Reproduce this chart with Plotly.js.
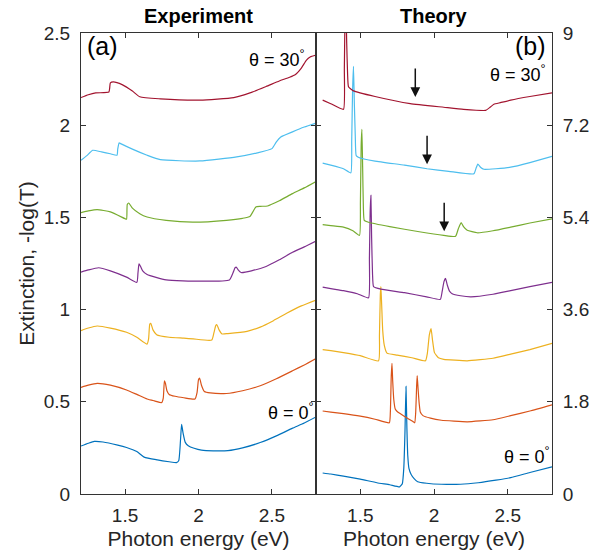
<!DOCTYPE html>
<html>
<head>
<meta charset="utf-8">
<script src="https://cdn.plot.ly/plotly-3.0.1.min.js"></script>
<style>html,body{margin:0;padding:0;background:#fff;}#chart{width:598px;height:560px;}</style>
</head>
<body>
<div id="chart"></div>
<script>
// ---- Experiment (left panel), extinction vs photon energy (eV) ----
const exp0_x = [1.2, 1.25, 1.29, 1.35, 1.45, 1.51, 1.58, 1.63, 1.72, 1.80, 1.85, 1.865, 1.878, 1.885, 1.895, 1.91, 1.93, 1.97, 2.02, 2.1, 2.2, 2.3, 2.42, 2.53, 2.64, 2.72, 2.8];
const exp0_y = [0.26, 0.275, 0.285, 0.282, 0.265, 0.252, 0.23, 0.2, 0.185, 0.175, 0.17, 0.18, 0.3, 0.378, 0.33, 0.28, 0.262, 0.248, 0.238, 0.234, 0.235, 0.25, 0.279, 0.315, 0.357, 0.385, 0.418];
const exp5_x = [1.2, 1.25, 1.31, 1.4, 1.51, 1.58, 1.65, 1.7, 1.75, 1.76, 1.768, 1.775, 1.785, 1.8, 1.84, 1.9, 1.976, 1.99, 2.0, 2.007, 2.02, 2.04, 2.08, 2.19, 2.3, 2.42, 2.53, 2.64, 2.72, 2.8];
const exp5_y = [0.578, 0.59, 0.6, 0.59, 0.564, 0.54, 0.515, 0.505, 0.496, 0.52, 0.614, 0.6, 0.56, 0.54, 0.53, 0.522, 0.515, 0.55, 0.62, 0.629, 0.59, 0.556, 0.548, 0.545, 0.56, 0.587, 0.625, 0.668, 0.7, 0.735];
const exp10_x = [1.2, 1.25, 1.31, 1.4, 1.51, 1.58, 1.65, 1.66, 1.668, 1.675, 1.69, 1.715, 1.8, 1.9, 1.964, 2.09, 2.105, 2.118, 2.125, 2.14, 2.16, 2.2, 2.33, 2.42, 2.51, 2.6, 2.7, 2.8];
const exp10_y = [0.886, 0.9, 0.911, 0.9, 0.877, 0.85, 0.813, 0.84, 0.92, 0.926, 0.89, 0.864, 0.85, 0.845, 0.841, 0.835, 0.875, 0.915, 0.918, 0.89, 0.868, 0.87, 0.882, 0.905, 0.94, 0.98, 1.02, 1.052];
const exp15_x = [1.2, 1.25, 1.32, 1.4, 1.51, 1.58, 1.588, 1.595, 1.605, 1.62, 1.65, 1.78, 2.01, 2.21, 2.235, 2.25, 2.258, 2.27, 2.29, 2.36, 2.46, 2.55, 2.64, 2.72, 2.8];
const exp15_y = [1.203, 1.215, 1.227, 1.21, 1.176, 1.148, 1.2, 1.248, 1.235, 1.21, 1.19, 1.161, 1.154, 1.161, 1.2, 1.228, 1.23, 1.215, 1.201, 1.21, 1.234, 1.27, 1.311, 1.34, 1.372];
const exp20_x = [1.2, 1.25, 1.31, 1.4, 1.5, 1.51, 1.515, 1.525, 1.55, 1.6, 1.65, 1.78, 1.96, 2.19, 2.3, 2.35, 2.37, 2.39, 2.42, 2.47, 2.55, 2.64, 2.72, 2.8];
const exp20_y = [1.526, 1.535, 1.542, 1.53, 1.493, 1.49, 1.57, 1.578, 1.55, 1.52, 1.502, 1.484, 1.474, 1.484, 1.495, 1.505, 1.53, 1.556, 1.56, 1.562, 1.59, 1.629, 1.66, 1.695];
const exp25_x = [1.2, 1.24, 1.28, 1.34, 1.4, 1.445, 1.45, 1.46, 1.47, 1.55, 1.65, 1.74, 2.01, 2.26, 2.4, 2.5, 2.53, 2.56, 2.64, 2.72, 2.8];
const exp25_y = [1.81, 1.835, 1.864, 1.855, 1.845, 1.837, 1.87, 1.904, 1.9, 1.87, 1.837, 1.813, 1.806, 1.828, 1.85, 1.873, 1.91, 1.936, 1.964, 1.99, 2.012];
const exp30_x = [1.2, 1.25, 1.3, 1.39, 1.395, 1.40, 1.42, 1.48, 1.55, 1.6, 1.74, 2.01, 2.24, 2.35, 2.46, 2.55, 2.62, 2.66, 2.7, 2.735, 2.76, 2.8];
const exp30_y = [2.15, 2.165, 2.175, 2.18, 2.2, 2.23, 2.235, 2.22, 2.185, 2.154, 2.143, 2.136, 2.15, 2.175, 2.21, 2.24, 2.26, 2.275, 2.31, 2.353, 2.37, 2.38];

// ---- Theory (right panel) ----
const th0_x = [1.245, 1.3, 1.386, 1.5, 1.613, 1.7, 1.767, 1.785, 1.795, 1.803, 1.81, 1.816, 1.822, 1.83, 1.845, 1.865, 1.889, 1.95, 2.05, 2.18, 2.3, 2.42, 2.52, 2.65, 2.8];
const th0_y = [0.41, 0.39, 0.35, 0.29, 0.22, 0.18, 0.14, 0.2, 0.5, 1.2, 2.1, 1.3, 0.75, 0.5, 0.38, 0.3, 0.24, 0.21, 0.19, 0.19, 0.22, 0.27, 0.32, 0.42, 0.53];
const th5_x = [1.245, 1.3, 1.386, 1.5, 1.6, 1.697, 1.704, 1.71, 1.715, 1.72, 1.727, 1.737, 1.75, 1.77, 1.82, 1.855, 1.869, 1.876, 1.882, 1.886, 1.892, 1.9, 1.907, 1.925, 1.976, 2.05, 2.225, 2.4, 2.52, 2.65, 2.8];
const th5_y = [1.62, 1.6, 1.57, 1.52, 1.46, 1.39, 1.6, 2.3, 2.55, 2.2, 1.85, 1.66, 1.61, 1.57, 1.48, 1.42, 1.39, 1.6, 2.1, 2.31, 2.05, 1.75, 1.6, 1.53, 1.48, 1.44, 1.41, 1.45, 1.53, 1.62, 1.74];
const th10_x = [1.245, 1.3, 1.386, 1.5, 1.624, 1.63, 1.636, 1.64, 1.645, 1.652, 1.663, 1.681, 1.75, 1.85, 1.942, 1.955, 1.968, 1.98, 1.99, 2.003, 2.03, 2.066, 2.225, 2.4, 2.52, 2.65, 2.8];
const th10_y = [2.82, 2.8, 2.76, 2.7, 2.6, 3.1, 3.9, 4.05, 3.7, 3.2, 2.9, 2.75, 2.71, 2.66, 2.6, 2.75, 3.1, 3.23, 3.0, 2.76, 2.66, 2.63, 2.6, 2.65, 2.73, 2.82, 2.94];
const th15_x = [1.245, 1.3, 1.386, 1.48, 1.556, 1.562, 1.567, 1.572, 1.577, 1.583, 1.59, 1.64, 1.8, 1.95, 2.043, 2.055, 2.068, 2.078, 2.09, 2.105, 2.123, 2.18, 2.25, 2.4, 2.52, 2.65, 2.8];
const th15_y = [4.04, 4.01, 3.97, 3.91, 3.83, 4.6, 5.5, 5.83, 5.0, 4.3, 4.05, 4.0, 3.93, 3.85, 3.8, 3.95, 4.15, 4.21, 4.08, 3.96, 3.91, 3.87, 3.85, 3.9, 3.97, 4.05, 4.13];
const th20_x = [1.245, 1.3, 1.386, 1.45, 1.495, 1.501, 1.506, 1.511, 1.516, 1.521, 1.527, 1.56, 1.7, 1.9, 2.066, 2.146, 2.165, 2.184, 2.2, 2.225, 2.293, 2.4, 2.52, 2.65, 2.8];
const th20_y = [5.26, 5.24, 5.21, 5.14, 5.05, 5.7, 6.8, 7.12, 6.4, 5.6, 5.34, 5.3, 5.22, 5.12, 5.05, 5.03, 5.18, 5.30, 5.22, 5.15, 5.10, 5.14, 5.21, 5.29, 5.37];
const th25_x = [1.245, 1.3, 1.386, 1.436, 1.442, 1.448, 1.454, 1.46, 1.466, 1.472, 1.49, 1.6, 1.8, 1.953, 2.1, 2.27, 2.285, 2.297, 2.315, 2.338, 2.42, 2.52, 2.65, 2.8];
const th25_y = [6.46, 6.42, 6.35, 6.27, 6.9, 7.9, 8.35, 7.6, 7.0, 6.61, 6.57, 6.5, 6.42, 6.35, 6.3, 6.25, 6.36, 6.44, 6.38, 6.34, 6.35, 6.38, 6.47, 6.59];
const th30_x = [1.245, 1.3, 1.386, 1.392, 1.397, 1.402, 1.408, 1.414, 1.42, 1.454, 1.6, 1.839, 2.066, 2.2, 2.35, 2.38, 2.406, 2.45, 2.52, 2.65, 2.8];
const th30_y = [7.69, 7.62, 7.51, 8.3, 9.4, 9.6, 8.8, 8.2, 7.95, 7.87, 7.76, 7.62, 7.55, 7.51, 7.49, 7.55, 7.61, 7.64, 7.69, 7.76, 7.83];

const colors = ['#0072BD', '#D95319', '#EDB120', '#7E2F8E', '#77AC30', '#4DBEEE', '#A2142F'];
const expX = [exp0_x, exp5_x, exp10_x, exp15_x, exp20_x, exp25_x, exp30_x];
const expY = [exp0_y, exp5_y, exp10_y, exp15_y, exp20_y, exp25_y, exp30_y];
const thX = [th0_x, th5_x, th10_x, th15_x, th20_x, th25_x, th30_x];
const thY = [th0_y, th5_y, th10_y, th15_y, th20_y, th25_y, th30_y];

const leftTicks = [0, 0.5, 1, 1.5, 2, 2.5];
const rightTicks = [0, 1.8, 3.6, 5.4, 7.2, 9];
const xTicks = [1.5, 2, 2.5];

// arrows (theory) tips
const arrowE = [1.873, 1.953, 2.069];
const arrowY = [7.75, 6.44, 5.13];

const traces = [];
for (let i = 0; i < 7; i++) {
  traces.push({x: expX[i], y: expY[i], xaxis: 'x', yaxis: 'y', type: 'scatter', mode: 'lines',
    line: {color: colors[i], width: 1.2, shape: 'spline', smoothing: 0.5}, showlegend: false, hoverinfo: 'skip'});
}
for (let i = 0; i < 7; i++) {
  traces.push({x: thX[i], y: thY[i], xaxis: 'x2', yaxis: 'y2', type: 'scatter', mode: 'lines',
    line: {color: colors[i], width: 1.2, shape: 'spline', smoothing: 0.4}, showlegend: false, hoverinfo: 'skip'});
}

const FONT = 'Liberation Sans, Arial, sans-serif';
const axCol = '#333333';
const txtCol = '#262626';
const axBase = {
  showline: true, linecolor: axCol, linewidth: 1, mirror: 'ticks', ticks: 'inside', ticklen: 5,
  tickcolor: axCol, showgrid: false, zeroline: false, tickfont: {family: FONT, size: 19, color: txtCol}
};

const annotations = [
  {text: '<b>Experiment</b>', xref: 'paper', yref: 'paper', x: 0.2495, y: 1, xanchor: 'center', yanchor: 'middle', yshift: 17, showarrow: false, font: {family: FONT, size: 20, color: '#000'}},
  {text: '<b>Theory</b>', xref: 'paper', yref: 'paper', x: 0.75, y: 1, xanchor: 'center', yanchor: 'middle', yshift: 17, showarrow: false, font: {family: FONT, size: 20, color: '#000'}},
  {text: '(a)', xref: 'x', yref: 'y', x: 1.23, y: 2.43, xanchor: 'left', showarrow: false, font: {family: FONT, size: 25, color: '#000'}},
  {text: '(b)', xref: 'x2', yref: 'y2', x: 2.77, y: 8.75, xanchor: 'right', showarrow: false, font: {family: FONT, size: 25, color: '#000'}},
  {text: 'θ = 30<sup>°</sup>', xref: 'x', yref: 'y', x: 2.74, y: 2.36, xanchor: 'right', showarrow: false, font: {family: FONT, size: 18, color: '#000'}},
  {text: 'θ = 0<sup>°</sup>', xref: 'x', yref: 'y', x: 2.8, y: 0.45, xanchor: 'right', showarrow: false, font: {family: FONT, size: 18, color: '#000'}},
  {text: 'θ = 30<sup>°</sup>', xref: 'x2', yref: 'y2', x: 2.77, y: 8.2, xanchor: 'right', showarrow: false, font: {family: FONT, size: 18, color: '#000'}},
  {text: 'θ = 0<sup>°</sup>', xref: 'x2', yref: 'y2', x: 2.8, y: 0.75, xanchor: 'right', showarrow: false, font: {family: FONT, size: 18, color: '#000'}}
];
for (let i = 0; i < arrowE.length; i++) {
  annotations.push({x: arrowE[i], y: arrowY[i], xref: 'x2', yref: 'y2', ax: 0, ay: -30, text: '',
    showarrow: true, arrowhead: 2, arrowsize: 1.3, arrowwidth: 1.5, arrowcolor: '#111'});
}

const layout = {
  width: 598, height: 560,
  margin: {l: 81, r: 46, t: 33, b: 66},
  paper_bgcolor: '#fff', plot_bgcolor: '#fff',
  font: {family: FONT, color: txtCol},
  showlegend: false,
  xaxis: Object.assign({}, axBase, {domain: [0, 0.499], range: [1.2, 2.8], tickvals: xTicks, ticktext: ['1.5', '2', '2.5'],
    anchor: 'y', ticklabelstandoff: 4, automargin: true,
    title: {text: 'Photon energy (eV)', standoff: 6, font: {family: FONT, size: 21, color: txtCol}}}),
  yaxis: Object.assign({}, axBase, {range: [0, 2.5], tickvals: leftTicks, ticktext: ['0', '0.5', '1', '1.5', '2', '2.5'],
    anchor: 'x', ticklabelstandoff: 6, automargin: true,
    title: {text: 'Extinction, -log(T)', standoff: 3, font: {family: FONT, size: 21, color: txtCol}}}),
  xaxis2: Object.assign({}, axBase, {domain: [0.499, 1], range: [1.2, 2.8], tickvals: xTicks, ticktext: ['1.5', '2', '2.5'],
    anchor: 'y2', ticklabelstandoff: 4, automargin: true,
    title: {text: 'Photon energy (eV)', standoff: 6, font: {family: FONT, size: 21, color: txtCol}}}),
  yaxis2: Object.assign({}, axBase, {range: [0, 9], tickvals: rightTicks, ticktext: ['0', '1.8', '3.6', '5.4', '7.2', '9'],
    anchor: 'x2', side: 'right', ticklabelstandoff: 6}),
  annotations: annotations
};

Plotly.newPlot('chart', traces, layout, {staticPlot: true, displayModeBar: false});
</script>
</body>
</html>
